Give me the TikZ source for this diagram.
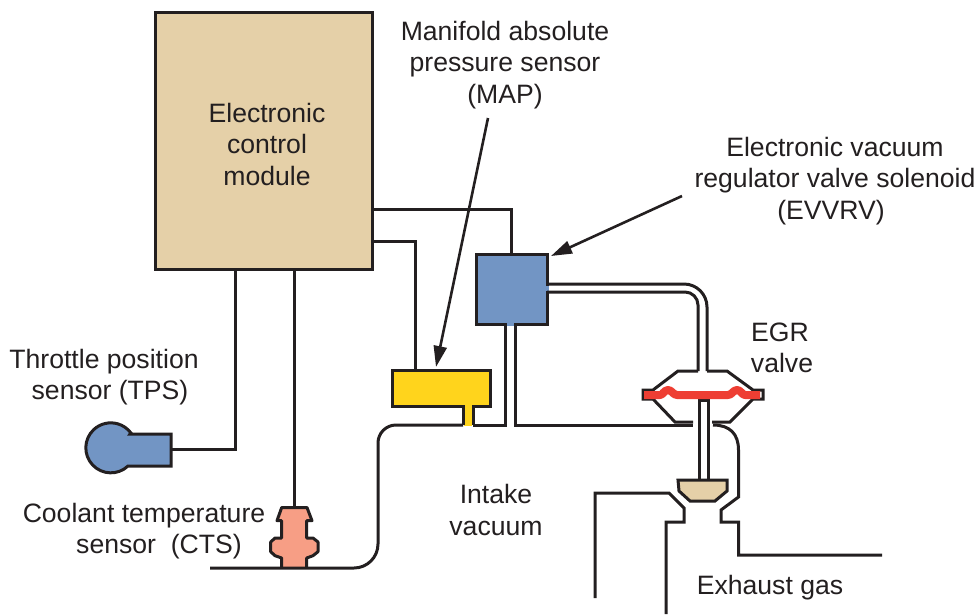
\documentclass[tikz,border=0pt]{standalone}
\usepackage{fontspec}
\setmainfont{Liberation Sans}
\usetikzlibrary{arrows.meta}
\definecolor{ink}{HTML}{231F20}
\definecolor{ecmtan}{HTML}{E5D0A8}
\definecolor{solblue}{HTML}{7295C4}
\definecolor{mapyellow}{HTML}{FFD41C}
\definecolor{ctssalmon}{HTML}{F79E85}
\definecolor{diared}{HTML}{EE3E33}
\begin{document}
\begin{tikzpicture}[x=1pt,y=-1pt,
  lab/.style={align=center,text=ink,inner sep=0pt,font=\fontsize{26.6}{31.5}\selectfont},
  box/.style={draw=ink,line width=3pt,inner sep=0pt,outer sep=0pt},
  wire/.style={draw=ink,line width=3pt},
  pointer/.style={draw=ink,line width=2.6pt,-{Triangle[length=21pt,width=13pt]}}]
  \useasboundingbox (0,0) rectangle (980,614);

  % end points of the wires and tubes
  \foreach \n/\x/\y in {ecmA/372/209,ecmB/372/241,ecmC/235/269,ecmD/294/269,
      solTop/511/254,mapTop/415/370,tpsEnd/171/449,ctsTop/294/507.5,
      solA/547/284,solB/547/292,hatA/707/371,hatB/698/371,
      mapTail/488/118,mapTip/436/367,solTail/682/196,solTip/551/256}{
    \coordinate (\n) at (\x,\y);
  }

  % boxes
  \node[box,fill=ecmtan,minimum width=217pt,minimum height=257pt] (ecm) at (263.5,140.5) {};
  \node[box,fill=solblue,minimum width=71pt,minimum height=70pt] (sol) at (511.5,289) {};
  \node[box,fill=mapyellow,minimum width=98pt,minimum height=36pt] (map) at (441,388) {};

  % openings where the tubes enter the boxes
  \draw[solblue,line width=3.4pt] (506.5,324) -- (513.5,324);
  \draw[solblue,line width=3.4pt] (547,285.5) -- (547,290.5);
  \draw[mapyellow,line width=3.4pt] (464.5,406) -- (471.5,406);
  \fill[mapyellow] (464,404) rectangle (472,426);
  \draw[wire] (463,405) -- (463,425) (473,405) -- (473,425);

  % wires from the module
  \draw[wire] (ecmA) -| (solTop);
  \draw[wire] (ecmB) -| (mapTop);
  \draw[wire,fill=solblue] (130,434) -- (171,434) -- (171,466) -- (128,466)
    arc[start angle=46.6,end angle=323,radius=25] -- cycle;
  \draw[wire] (tpsEnd) -| (ecmC);
  \draw[wire] (ecmD) -- (ctsTop);

  % coolant sensor
  \draw[wire,fill=ctssalmon,line join=round] (281.7,567.5) -- (281.7,558) -- (275,555.7) -- (270.7,551.7)
    -- (270.7,542) -- (275,538) -- (281.7,538) -- (281.7,520.7) -- (277,520.7) -- (281.7,507.5)
    -- (307,507.5) -- (312,520.7) -- (306.7,520.7) -- (306.7,538) -- (313,538) -- (318,542)
    -- (318,551.7) -- (313,555.7) -- (306.7,558) -- (306.7,567.5);

  % intake passage
  \draw[wire] (463,425) [rounded corners=18pt] -- (378,425) [rounded corners=24pt] -- (378,568)
    [sharp corners] -- (210,568);
  \draw[wire] (473,425) -- (505,425) -- (505,324);
  \draw[wire] (515,324) -- (515,425) -- (693,425);

  % vacuum tube to the valve
  \draw[wire,rounded corners=23pt] (solA) -- (707,284) -- (hatA);
  \draw[wire,rounded corners=13pt] (solB) -- (698,292) -- (hatB);

  % EGR valve
  \draw[wire] (hatB) -- (678,371) -- (653,390) -- (643,390) -- (643,399) -- (653,399) -- (675,422) -- (693,422);
  \draw[wire] (hatA) -- (727,371) -- (753,390) -- (763,390) -- (763,399) -- (753,399) -- (730,422) -- (712,422);
  \draw[wire] (699,480) -- (699,400) -- (708,400) -- (708,480);
  \draw[diared,line width=8pt,line join=round] (644,395) -- (660,395)
    .. controls (663,395) and (664,390) .. (668,390) .. controls (672,390) and (673,395) .. (677,395)
    -- (728,395) .. controls (732,395) and (733,390) .. (737,390)
    .. controls (741,390) and (742,395) .. (745,395) -- (760,395);
  \draw[wire,fill=ecmtan] (678,480) -- (727,480) -- (727,491) -- (715,501) -- (690,501) -- (679,491) -- cycle;

  % exhaust passage
  \draw[wire] (713,425) .. controls (730,425) and (738.5,434) .. (738.5,450) -- (738.5,497) -- (721,510)
    -- (721,522) -- (738.5,522) -- (738.5,555) -- (882,555);
  \draw[wire] (595,598) -- (595,493) -- (669,493) -- (684,508) -- (684,522) -- (666,522) -- (666,614);

  % pointers
  \draw[pointer] (mapTail) -- (mapTip);
  \draw[pointer] (solTail) -- (solTip);

  % labels
  \node[lab] (ecmlab) at (267,144) {Electronic\\control\\module};
  \node[lab] (maplab) at (505,65) {Manifold absolute\\pressure sensor\\(MAP)};
  \node[lab] (sollab) at (835,181) {Electronic vacuum\\regulator valve solenoid\\(EVVRV)\hspace*{8pt}};
  \node[lab] (egrlab) at (782,348) {EGR\hspace*{4pt}\\valve};
  \node[lab] (tpslab) at (104,377) {Throttle position\\\hspace*{12pt}sensor (TPS)};
  \node[lab] (ctslab) at (144,531) {Coolant temperature\\\hspace*{30pt}sensor\ \ (CTS)};
  \node[lab] (intlab) at (496,510) {Intake\\vacuum};
  \node[lab] (exhlab) at (770,588) {Exhaust gas};
\end{tikzpicture}
\end{document}
